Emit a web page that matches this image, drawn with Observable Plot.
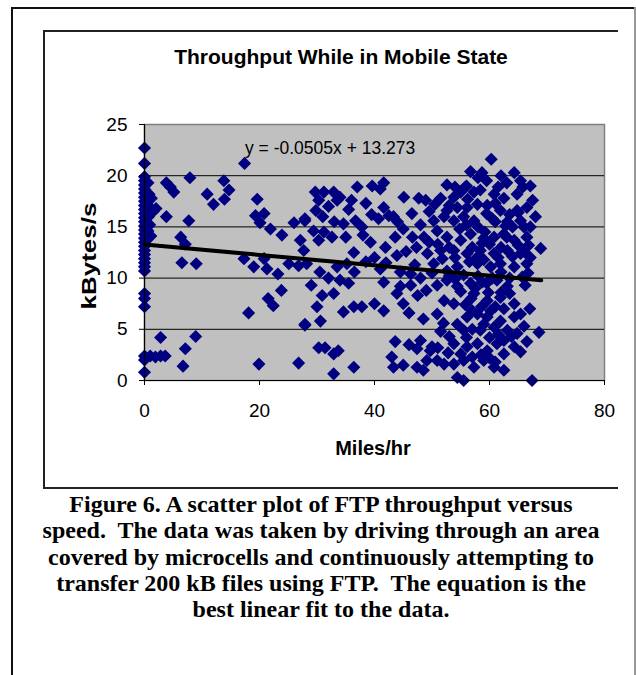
<!DOCTYPE html>
<html><head><meta charset="utf-8">
<script src="https://cdn.jsdelivr.net/npm/d3@7"></script>
<script src="https://cdn.jsdelivr.net/npm/@observablehq/plot@0.6"></script>
<style>
body{margin:0;background:#fff;}
#page{position:relative;width:636px;height:675px;overflow:hidden;font-family:"Liberation Sans",Arial,sans-serif;color:#000;}
.abs{position:absolute;}
.ln{position:absolute;background:#111;}
#title{left:0;width:682px;top:44px;text-align:center;font-weight:bold;font-size:21px;line-height:26px;}
#ylab{left:89px;top:256px;transform:translate(-50%,-50%) rotate(-90deg) scaleX(1.3);font-weight:bold;font-size:20px;white-space:nowrap;}
#xlab{left:373px;top:448px;transform:translate(-50%,-50%);font-weight:bold;font-size:20px;white-space:nowrap;}
#eq{left:245px;top:148px;transform:translateY(-50%);font-size:17.5px;white-space:nowrap;}
#cap{left:0;width:642px;top:491px;text-align:center;font-family:"Liberation Serif","Times New Roman",serif;font-weight:bold;font-size:24px;line-height:26.3px;}
</style></head><body><div id="page"></div>
<script>
const speed = [
0,0,0,0,0,0,0,0,0,0,0,0,0,0,0,0,0,0,0,0,0,0,0,0,0,0,0,0,0,0,0,0,
0.6,0.8,0.5,1.0,0.7,1.2,0.9,1.5,0.6,1.1,2.0,1.0,1.9,2.8,3.6,2.8,
3.8,4.5,5.1,3.8,7.9,7.7,6.3,7.1,6.5,9.0,7.1,6.7,8.9,10.9,12.0,13.8,14.7,13.9,17.4,19.6,19.3,20.8,20.1,21.9,23.9,17.3,19.0,20.8,21.3,23.2,23.8,21.5,22.4,18.1,19.9,26.8,27.9,26.0,27.9,25.1,26.8,27.1,27.7,30.3,
60.3,56.7,58.7,64.3,65.4,67.1,52.6,55.8,37.0,39.6,41.6,41.0,29.7,31.2,32.9,33.5,30.3,45.1,47.7,48.9,51.5,53.8,55.0,57.3,58.4,60.8,62.5,64.8,35.5,29.8,27.9,
41.6,42.5,40.7,43.3,52.6,54.4,56.1,57.9,59.6,61.9,64.8,66.5,50.3,52.1,53.8,57.3,60.5,63.1,65.4,67.1,34.6,36.7,37.8,29.4,31.2,32.6,30.3,39.3,41.9,43.6,46.6,48.6,36.4,43.9,47.3,50.9,52.6,55.0,56.7,58.7,60.8,62.5,64.3,66.5,68.9,49.2,51.5,53.8,56.1,58.4,60.8,63.1,65.4,67.1,28.2,33.5,35.2,41.0,44.5,46.3,50.3,52.6,54.4,57.9,60.2,61.9,64.3,66.5,35.5,41.6,44.5,46.3,43.9,50.9,52.6,54.4,56.7,58.7,61.3,63.1,65.7,52.1,53.8,57.3,59.6,61.9,64.3,30.9,32.9,30.0,30.6,34.6,36.4,37.8,41.6,50.9,54.4,56.1,57.9,59.6,61.9,64.3,65.4,27.9,55.5,58.4,60.8,63.1,68.6,31.4,33.7,32.9,43.6,43.0,43.3,48.0,47.4,49.7,50.9,49.1,47.4,52.1,53.8,56.1,57.9,59.6,61.3,62.5,64.3,66.5,65.4,53.8,55.5,57.3,59.0,60.8,62.5,54.4,55.5,32.9,36.4,67.4,
51.0,53.0,54.8,56.0,57.0,58.0,59.2,60.0,61.0,62.0,63.0,64.0,65.0,66.0,59.5,61.0,63.5,58.0,59.0,60.5,62.0,63.5,55.5,56.5,54.0,57.5,59.8,61.0,62.5,63.5,60.0,61.5,62.5,63.8,59.0,57.0,56.0,58.5,60.0,61.0,57.0,55.0,51.5,50.0,48.5,46.0,45.0,66.0,64.8,67.0,66.2,66.8,68.0,67.5,65.8,63.0,62.0,61.5,59.5,58.0,56.0,54.0,53.0,50.5,49.5,48.0,46.5,45.0,44.0,38.5,39.5,36.0,34.0,32.0,31.0,33.0,35.0,38.0,36.5,34.0,32.0,30.5,29.0,38.5,40.0,42.0,45.5,47.0,48.0,49.0,47.5,45.0,48.5,40.0,46.0,52.0,53.0,51.0,52.8,55.8,56.8,58.6,60.2,55.0,59.0,57.8,61.5,64.0,65.0,66.0,62.8,56.2,55.5,54.0,51.8,50.0,49.5,53.0,57.0,59.5,62.0,66.7
];
const throughput = [
22.7,21.2,19.9,19.5,19.1,18.7,18.3,17.9,17.5,17.1,16.7,16.3,15.9,15.5,15.1,14.7,14.3,13.9,13.5,13.1,12.7,12.3,11.9,11.5,11.1,10.7,8.5,8.0,7.2,2.4,2.0,0.8,
19.3,18.2,17.4,16.9,16.0,17.8,15.2,16.5,14.6,14.1,16.8,2.4,2.3,2.4,2.4,4.2,
19.3,18.9,18.4,16.0,19.8,15.6,14.0,13.3,11.5,11.4,3.1,1.4,4.3,18.2,17.2,19.5,18.6,17.7,21.2,17.7,16.1,16.3,15.4,14.8,14.2,11.9,11.1,11.9,10.9,10.4,8.8,8.0,7.3,6.6,1.6,1.7,5.4,15.4,15.6,11.4,11.2,13.7,12.7,3.2,
21.6,20.4,20.3,20.3,19.5,19.0,19.1,18.9,18.9,19.0,19.3,18.7,18.4,18.4,18.4,17.6,17.6,17.9,17.8,17.6,17.8,17.9,18.4,18.4,18.6,18.2,17.8,18.2,16.7,16.6,15.8,
16.9,16.1,15.8,16.0,16.6,16.9,16.9,17.2,17.1,16.6,16.6,16.9,15.6,16.0,15.6,15.6,15.8,15.5,15.6,15.0,15.3,15.6,15.0,14.6,14.5,14.0,13.7,13.5,13.0,14.0,14.0,14.0,12.5,12.2,13.0,14.6,14.0,13.7,14.3,13.4,14.0,14.3,13.7,14.0,12.9,12.4,12.7,12.7,12.4,12.7,12.4,12.7,12.4,12.0,11.4,11.1,11.4,10.9,10.6,10.4,11.4,10.7,11.1,11.4,11.1,11.4,11.1,11.4,9.5,9.6,9.2,9.3,8.5,9.3,9.8,9.2,9.5,9.6,9.8,9.2,10.1,7.8,7.5,8.5,7.8,8.1,7.5,8.3,8.5,7.2,5.8,6.7,7.2,7.2,6.8,6.5,5.5,6.2,6.5,6.2,5.8,6.2,6.5,5.5,4.9,4.9,5.2,4.9,4.7,3.2,2.9,2.6,3.8,2.3,1.3,3.9,3.1,2.9,1.95,1.95,1.3,1.6,3.6,3.3,3.6,2.9,3.6,2.6,3.3,3.8,2.8,1.6,1.95,1.3,1.95,1.3,1.0,0.3,0.0,0.65,1.3,0.0,
13.3,13.0,14.8,15.2,13.0,15.0,14.5,13.3,15.5,13.0,14.0,15.0,13.2,12.6,16.3,17.3,16.2,10.2,11.8,10.0,10.6,10.0,10.3,11.6,9.9,9.0,8.6,7.2,7.0,8.5,4.2,4.5,3.9,4.3,5.5,5.0,4.2,2.5,2.2,1.8,2.3,2.6,4.8,3.3,1.0,3.5,1.5,5.3,4.6,7.0,9.3,13.2,16.0,17.6,18.9,19.3,20.0,18.9,19.5,19.8,19.0,18.9,17.1,17.2,16.5,15.2,16.3,14.8,15.5,17.3,16.2,17.6,17.9,17.0,16.0,15.5,14.0,14.2,10.6,9.8,10.0,10.6,9.3,11.6,12.0,11.5,12.6,11.3,10.0,8.8,8.3,7.5,6.0,7.5,6.6,5.6,4.3,3.2,2.7,7.4,8.0,7.2,6.8,8.7,13.9,12.0,12.0,12.1,16.4,15.0,15.1,17.7,16.0,12.0,11.9,10.5,13.5,10.2,6.8,9.5,8.6,10.5
];
const xTicks = [0, 20, 40, 60, 80];
const yTicks = [0, 5, 10, 15, 20, 25];
const gridValues = [5, 10, 15, 20];
const fitSlope = -0.0505, fitIntercept = 13.273, fitRange = [0, 69];
const titleText = "Throughput While in Mobile State";
const xLabel = "Miles/hr", yLabel = "kBytes/s";
const equationText = "y = -0.0505x + 13.273";
const captionLines = [
 "Figure 6. A scatter plot of FTP throughput versus",
 "speed.  The data was taken by driving through an area",
 "covered by microcells and continuously attempting to",
 "transfer 200 kB files using FTP.  The equation is the",
 "best linear fit to the data."
];

const n = Math.min(speed.length, throughput.length);
const pts = d3.range(n).map(i => ({x: speed[i], y: throughput[i]}));
const fit = fitRange.map(x => ({x, y: fitIntercept + fitSlope * x}));

const chart = Plot.plot({
  width: 636, height: 500,
  marginTop: 124, marginRight: 32, marginBottom: 120, marginLeft: 144,
  style: {background: "transparent", overflow: "visible", color: "#000", fontFamily: "'Liberation Sans', Arial, sans-serif"},
  x: {domain: [0, 80]},
  y: {domain: [0, 25]},
  marks: [
    Plot.frame({fill: "#c0c0c0", stroke: "#808080", strokeWidth: 1.5}),
    Plot.ruleY(gridValues, {stroke: "#000", strokeWidth: 1}),
    Plot.dot(pts, {x: "x", y: "y", symbol: "diamond2", r: 5.9, fill: "#000080", stroke: "none"}),
    Plot.line(fit, {x: "x", y: "y", stroke: "#000", strokeWidth: 4}),
    Plot.ruleX([0], {stroke: "#000", strokeWidth: 1.2}),
    Plot.ruleY([0], {stroke: "#000", strokeWidth: 1.2}),
    Plot.axisX({ticks: xTicks, tickSize: 5, tickPadding: 18, fontSize: 19, label: null, tickFormat: d => String(d)}),
    Plot.axisY({ticks: yTicks, tickSize: 5, tickPadding: 12, fontSize: 19, label: null, tickFormat: d => String(d)})
  ]
});
chart.style.position = "absolute";
chart.style.left = "0px";
chart.style.top = "0px";

const page = document.getElementById("page");
page.appendChild(chart);

function line(l, t, w, h, c) {
  const d = document.createElement("div");
  d.className = "ln";
  d.style.cssText = `left:${l}px;top:${t}px;width:${w}px;height:${h}px;background:${c}`;
  page.appendChild(d);
}
// outer figure box
line(11, 7, 625, 2, "#111");
line(11, 7, 2, 668, "#111");
line(634, 7, 2, 668, "#999");
// chart area box
line(43, 30, 575, 2, "#222");
line(43, 30, 2, 459, "#222");
line(43, 487, 575, 2, "#222");

function txt(id, s) {
  const d = document.createElement("div");
  d.className = "abs"; d.id = id; d.textContent = s;
  page.appendChild(d);
  return d;
}
txt("title", titleText);
txt("ylab", yLabel);
txt("xlab", xLabel);
txt("eq", equationText);
const cap = document.createElement("div");
cap.className = "abs"; cap.id = "cap";
captionLines.forEach((s, i) => {
  const sp = document.createElement("div");
  sp.textContent = s.replace(/  /g, "\u00a0 ");
  cap.appendChild(sp);
});
page.appendChild(cap);
</script>
</body></html>
